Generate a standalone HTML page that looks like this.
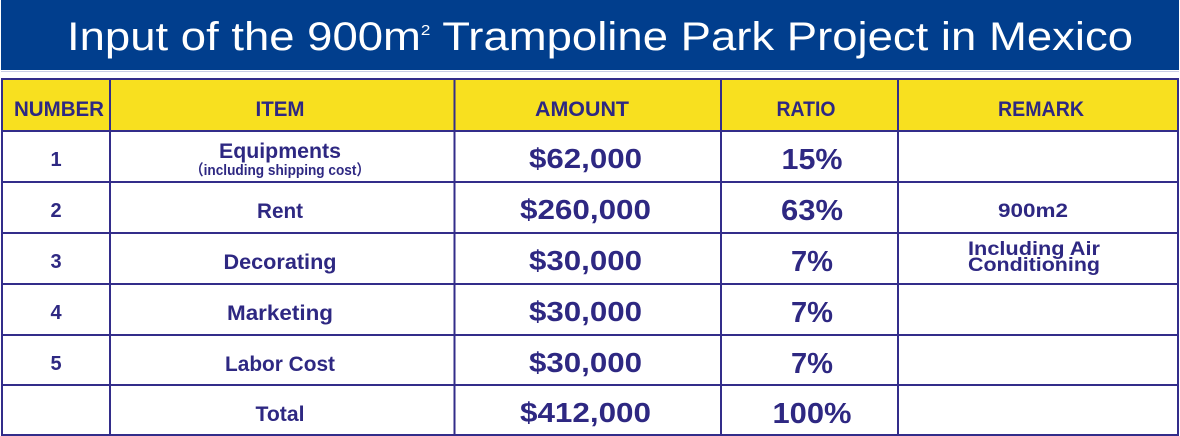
<!DOCTYPE html>
<html>
<head>
<meta charset="utf-8">
<style>
  html,body{margin:0;padding:0;background:#fff;}
  body{width:1180px;height:436px;overflow:hidden;}
  svg{display:block;}
  .t{font-family:"Liberation Sans","Noto Sans CJK SC",sans-serif;font-weight:bold;fill:#2e2882;}
</style>
</head>
<body>
<svg width="1180" height="436" viewBox="0 0 1180 436" xmlns="http://www.w3.org/2000/svg">
  <rect x="0" y="0" width="1180" height="436" fill="#ffffff"/>
  <!-- Title banner -->
  <rect x="1" y="0" width="1178" height="70" fill="#013e8d"/>
  <line x1="1" y1="71.5" x2="1179" y2="71.5" stroke="#c9cde6" stroke-width="1"/>
  <text x="67" y="50" font-family="'Liberation Sans',sans-serif" font-size="40" fill="#ffffff" textLength="1066" lengthAdjust="spacingAndGlyphs">Input of the 900m<tspan dy="-15" font-size="15">2</tspan><tspan dy="15"> Trampoline Park Project in Mexico</tspan></text>

  <!-- Header row fill -->
  <rect x="2" y="78" width="1176" height="53" fill="#f8e01f"/>

  <!-- Grid -->
  <g stroke="#332d8a" stroke-width="2" fill="none">
    <rect x="2" y="79" width="1176" height="356"/>
    <line x1="110" y1="78" x2="110" y2="436"/>
    <line x1="454.5" y1="78" x2="454.5" y2="436"/>
    <line x1="721" y1="78" x2="721" y2="436"/>
    <line x1="898" y1="78" x2="898" y2="436"/>
    <line x1="1" y1="131" x2="1179" y2="131"/>
    <line x1="1" y1="182" x2="1179" y2="182"/>
    <line x1="1" y1="233" x2="1179" y2="233"/>
    <line x1="1" y1="284" x2="1179" y2="284"/>
    <line x1="1" y1="335" x2="1179" y2="335"/>
    <line x1="1" y1="385" x2="1179" y2="385"/>
  </g>

  <!-- Header text -->
  <g class="t" font-size="21" text-anchor="middle">
    <text class="t" x="59" y="116" textLength="90" lengthAdjust="spacingAndGlyphs">NUMBER</text>
    <text class="t" x="280" y="116" textLength="49" lengthAdjust="spacingAndGlyphs">ITEM</text>
    <text class="t" x="582" y="116" textLength="94" lengthAdjust="spacingAndGlyphs">AMOUNT</text>
    <text class="t" x="806" y="116" textLength="59" lengthAdjust="spacingAndGlyphs">RATIO</text>
    <text class="t" x="1041" y="116" textLength="86" lengthAdjust="spacingAndGlyphs">REMARK</text>
  </g>

  <!-- Number column -->
  <g class="t" font-size="20" text-anchor="middle">
    <text class="t" x="56" y="166">1</text>
    <text class="t" x="56" y="217">2</text>
    <text class="t" x="56" y="268">3</text>
    <text class="t" x="56" y="319">4</text>
    <text class="t" x="56" y="370">5</text>
  </g>

  <!-- Item column -->
  <g class="t" font-size="21" text-anchor="middle">
    <text class="t" x="280" y="158" textLength="122" lengthAdjust="spacingAndGlyphs">Equipments</text>
    <text class="t" x="280" y="175" font-size="15" textLength="180" lengthAdjust="spacingAndGlyphs">（including shipping cost）</text>
    <text class="t" x="280" y="218" textLength="46" lengthAdjust="spacingAndGlyphs">Rent</text>
    <text class="t" x="280" y="269" textLength="113" lengthAdjust="spacingAndGlyphs">Decorating</text>
    <text class="t" x="280" y="320" textLength="106" lengthAdjust="spacingAndGlyphs">Marketing</text>
    <text class="t" x="280" y="371" textLength="110" lengthAdjust="spacingAndGlyphs">Labor Cost</text>
    <text class="t" x="280" y="421" textLength="49" lengthAdjust="spacingAndGlyphs">Total</text>
  </g>

  <!-- Amount column -->
  <g class="t" font-size="28" text-anchor="middle">
    <text class="t" x="585.5" y="168" textLength="113" lengthAdjust="spacingAndGlyphs">$62,000</text>
    <text class="t" x="585.5" y="219" textLength="131" lengthAdjust="spacingAndGlyphs">$260,000</text>
    <text class="t" x="585.5" y="270" textLength="113" lengthAdjust="spacingAndGlyphs">$30,000</text>
    <text class="t" x="585.5" y="321" textLength="113" lengthAdjust="spacingAndGlyphs">$30,000</text>
    <text class="t" x="585.5" y="372" textLength="113" lengthAdjust="spacingAndGlyphs">$30,000</text>
    <text class="t" x="585.5" y="422" textLength="131" lengthAdjust="spacingAndGlyphs">$412,000</text>
  </g>

  <!-- Ratio column -->
  <g class="t" font-size="29" text-anchor="middle">
    <text class="t" x="812" y="169" textLength="61" lengthAdjust="spacingAndGlyphs">15%</text>
    <text class="t" x="812" y="220" textLength="62" lengthAdjust="spacingAndGlyphs">63%</text>
    <text class="t" x="812" y="271" textLength="42" lengthAdjust="spacingAndGlyphs">7%</text>
    <text class="t" x="812" y="322" textLength="42" lengthAdjust="spacingAndGlyphs">7%</text>
    <text class="t" x="812" y="373" textLength="42" lengthAdjust="spacingAndGlyphs">7%</text>
    <text class="t" x="812" y="423" textLength="79" lengthAdjust="spacingAndGlyphs">100%</text>
  </g>

  <!-- Remark column -->
  <g class="t" font-size="19" text-anchor="middle">
    <text class="t" x="1033" y="217" textLength="70" lengthAdjust="spacingAndGlyphs">900m2</text>
    <text class="t" x="1034" y="255" textLength="132" lengthAdjust="spacingAndGlyphs">Including Air</text>
    <text class="t" x="1034" y="271" textLength="132" lengthAdjust="spacingAndGlyphs">Conditioning</text>
  </g>
</svg>
</body>
</html>
